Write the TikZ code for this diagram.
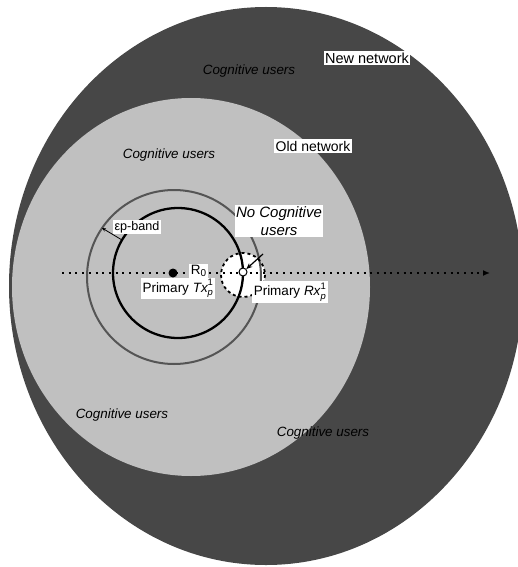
\documentclass[tikz,border=0pt]{standalone}
\usepackage{fontspec}
\usepackage{amsmath}
\setmainfont{Liberation Sans}
\usetikzlibrary{arrows.meta}
\definecolor{darkfill}{HTML}{474747}
\definecolor{lightfill}{HTML}{C0C0C0}
\definecolor{ringgray}{HTML}{555555}
\begin{document}
\begin{tikzpicture}[x=1pt,y=-1pt,
  lbl/.style={fill=white, inner sep=1.5pt, font=\fontsize{13.5}{15}\selectfont},
  cog/.style={inner sep=1pt, font=\fontsize{13.4}{15}\selectfont\itshape},
  dotline/.style={line width=2pt, dash pattern=on 2pt off 4.7pt}]
\useasboundingbox (0,0) rectangle (518,567);
\begin{scope}
\clip (0,0) rectangle (518,567);
\fill[darkfill] (266,286) ellipse [x radius=257, y radius=279];
\fill[lightfill] (191,287) ellipse [x radius=179, y radius=189];
\end{scope}
% no-cognitive zone fill
\fill[white] (243,275) circle [radius=22];
% rings
\draw[ringgray, line width=2pt] (174,277) circle [radius=87];
\draw[black, line width=2.3pt] (178,273) circle [radius=65];
\draw[black, dashed, line width=1.8pt] (243,275) circle [radius=22];
% axis
\coordinate (ls) at (62,273);
\coordinate (le) at (490,273);
\draw[dotline, -{Latex[length=7pt,width=6pt]}] (ls) -- (le);
% transmitter / receiver
\node[circle, fill=black, inner sep=0pt, minimum size=9pt] (tx) at (173,273) {};
\node[circle, fill=white, draw=black, line width=1pt, inner sep=0pt, minimum size=8pt] (rx) at (243,272) {};
% epsilon band arrow
\coordinate (e1) at (122,240);
\coordinate (e2) at (102,228);
\draw[line width=0.8pt, -{Stealth[length=4pt,width=3.5pt]}] (e1) -- (e2);
\node[lbl, font=\fontsize{12.6}{14}\selectfont] (eps) at (137,227) {εp-band};
% labels
\node[lbl] (r0) at (198.5,271) {R\raisebox{-1.5pt}{\fontsize{10}{10}\selectfont 0}};
\node[lbl] (txl) at (178,288.5) {Primary $\text{\itshape Tx}_{\text{\itshape p}}^{\text{1}}$};
\node[lbl] (rxl) at (290,292) {Primary $\text{\itshape Rx}_{\text{\itshape p}}^{\text{1}}$};
\node[lbl, font=\fontsize{15}{18}\selectfont\itshape, align=center] (nocog) at (279,221) {No Cognitive\\users};
\coordinate (na) at (263,254);
\draw[line width=1.2pt, -{Stealth[length=6pt,width=5pt]}] (na) -- (rx);
\node[lbl, font=\fontsize{14.5}{16}\selectfont] (newnet) at (367,58) {New network};
\node[lbl, font=\fontsize{14}{16}\selectfont] (oldnet) at (313,146) {Old network};
% cognitive users
\node[cog] (c1) at (249,71) {Cognitive users};
\node[cog] (c2) at (169,155) {Cognitive users};
\node[cog] (c3) at (122,415) {Cognitive users};
\node[cog] (c4) at (323,433) {Cognitive users};
\end{tikzpicture}
\end{document}
